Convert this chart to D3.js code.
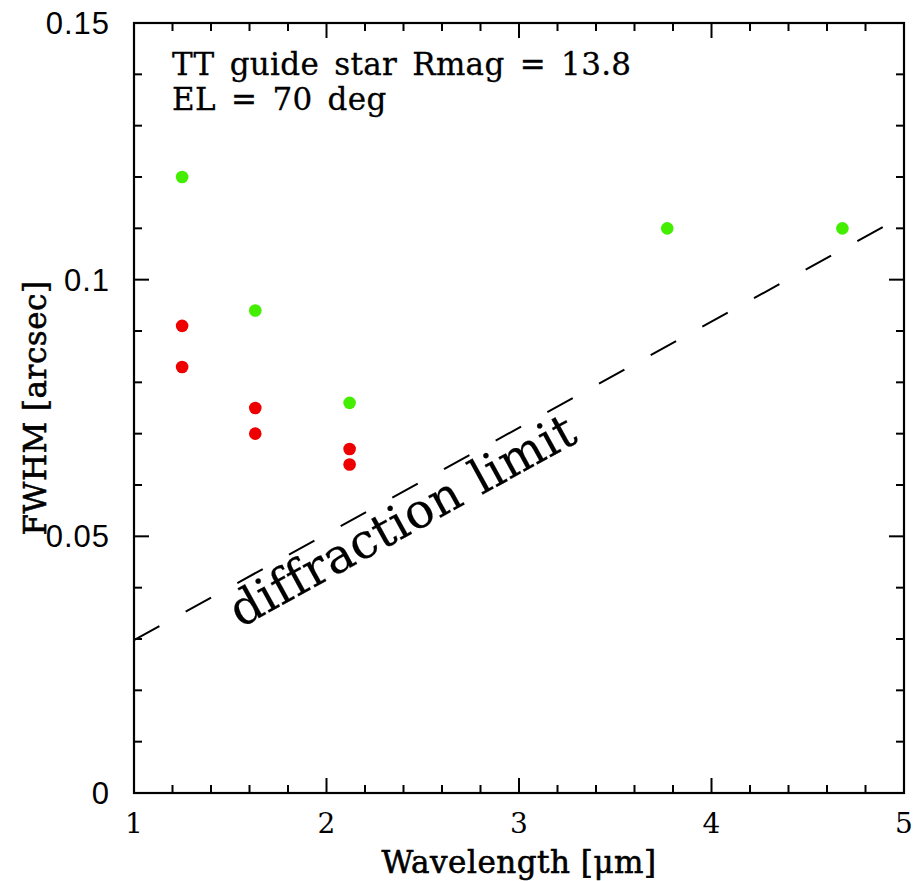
<!DOCTYPE html>
<html lang="en">
<head>
    <meta charset="utf-8">
    <title>FWHM vs Wavelength</title>
    <style>
        body { margin: 0; background: white; }
        .ytick { font-family: "Liberation Sans", Arial, sans-serif; font-size: 31px; letter-spacing: 1px; }
        .xtick { font-family: "DejaVu Serif", serif; font-size: 28px; }
        .title { font-family: "DejaVu Serif", serif; font-size: 31px; stroke: black; stroke-width: 0.6px; letter-spacing: 0.5px; }
        .note { font-family: "DejaVu Serif", serif; font-size: 31px; stroke: black; stroke-width: 0.3px; word-spacing: 5px; letter-spacing: 0.3px; }
    </style>
</head>
<body>
    <div id="container"></div>

    <script src="https://cdn.jsdelivr.net/npm/d3@7"></script>
    <script>
        // Data
        const greenWave = [1.25, 1.63, 2.12, 3.77, 4.68];
        const greenFwhm = [0.120, 0.094, 0.076, 0.110, 0.110];
        const redWave = [1.25, 1.25, 1.63, 1.63, 2.12, 2.12];
        const redFwhm = [0.091, 0.083, 0.075, 0.070, 0.067, 0.064];
        const diffWave = [1, 5];
        const diffFwhm = [0.0298, 0.1125];
        const xMajor = [1, 2, 3, 4, 5];
        const yMajor = [0, 0.05, 0.1, 0.15];
        const yLabels = ["0", "0.05", "0.1", "0.15"];
        const notes = ["TT guide star Rmag = 13.8", "EL = 70 deg"];

        const width = 914;
        const height = 881;
        const marginLeft = 134;
        const marginRight = 10;
        const marginTop = 23;
        const marginBottom = 88;

        const svg = d3.select("#container").append("svg")
            .attr("width", width)
            .attr("height", height);

        const x = d3.scaleLinear().domain([1, 5]).range([marginLeft, width - marginRight]);
        const y = d3.scaleLinear().domain([0, 0.15]).range([height - marginBottom, marginTop]);

        svg.append("clipPath").attr("id", "clip")
            .append("rect")
            .attr("x", x(1)).attr("y", y(0.15))
            .attr("width", x(5) - x(1)).attr("height", y(0) - y(0.15));

        // minor and major ticks on all four sides
        const xMinor = d3.range(1, 5.001, 0.2);
        const yMinor = d3.range(0, 0.1501, 0.01);
        const isMajorX = v => Math.abs(v - Math.round(v)) < 1e-6;
        const isMajorY = v => Math.abs(v / 0.05 - Math.round(v / 0.05)) < 1e-6;

        const ticks = svg.append("g").attr("stroke", "black").attr("stroke-width", 2);
        xMinor.forEach(v => {
            const len = isMajorX(v) ? 15 : 8;
            ticks.append("line").attr("x1", x(v)).attr("x2", x(v)).attr("y1", y(0)).attr("y2", y(0) - len);
            ticks.append("line").attr("x1", x(v)).attr("x2", x(v)).attr("y1", y(0.15)).attr("y2", y(0.15) + len);
        });
        yMinor.forEach(v => {
            const len = isMajorY(v) ? 15 : 8;
            ticks.append("line").attr("y1", y(v)).attr("y2", y(v)).attr("x1", x(1)).attr("x2", x(1) + len);
            ticks.append("line").attr("y1", y(v)).attr("y2", y(v)).attr("x1", x(5)).attr("x2", x(5) - len);
        });

        // frame
        svg.append("rect")
            .attr("x", x(1)).attr("y", y(0.15))
            .attr("width", x(5) - x(1)).attr("height", y(0) - y(0.15))
            .attr("fill", "none").attr("stroke", "black").attr("stroke-width", 2.2);

        // tick labels
        svg.selectAll(".xtick").data(xMajor).enter().append("text")
            .attr("class", "xtick")
            .attr("x", d => x(d))
            .attr("y", y(0) + 40)
            .attr("text-anchor", "middle")
            .text(d => d);

        svg.selectAll(".ytick").data(yMajor).enter().append("text")
            .attr("class", "ytick")
            .attr("x", x(1) - 24)
            .attr("y", d => y(d) + 11)
            .attr("text-anchor", "end")
            .text((d, i) => yLabels[i]);

        // axis titles
        svg.append("text")
            .attr("class", "title")
            .attr("x", (x(1) + x(5)) / 2)
            .attr("y", height - 8)
            .attr("text-anchor", "middle")
            .text("Wavelength [\u03bcm]");

        svg.append("text")
            .attr("class", "title")
            .attr("transform", `translate(46,${(y(0) + y(0.15)) / 2}) rotate(-90)`)
            .attr("text-anchor", "middle")
            .text("FWHM [arcsec]");

        // diffraction limit line
        const line = d3.line().x(d => x(d[0])).y(d => y(d[1]));
        svg.append("path")
            .datum(diffWave.map((w, i) => [w, diffFwhm[i]]))
            .attr("clip-path", "url(#clip)")
            .attr("d", line)
            .attr("fill", "none")
            .attr("stroke", "black")
            .attr("stroke-width", 2)
            .attr("stroke-dasharray", "29,30");

        const angle = Math.atan2(y(diffFwhm[1]) - y(diffFwhm[0]), x(diffWave[1]) - x(diffWave[0])) * 180 / Math.PI;
        const labelW = 1.45;
        const labelF = diffFwhm[0] + (labelW - diffWave[0]) * (diffFwhm[1] - diffFwhm[0]) / (diffWave[1] - diffWave[0]);
        svg.append("text")
            .attr("class", "note")
            .attr("transform", `translate(${x(labelW)},${y(labelF)}) rotate(${angle})`)
            .attr("dy", 41)
            .style("font-size", "48px")
            .style("stroke-width", "0.2px")
            .style("letter-spacing", "0.3px")
            .style("word-spacing", "2px")
            .text("diffraction limit");

        // points
        svg.selectAll(".green").data(greenWave).enter().append("circle")
            .attr("cx", d => x(d))
            .attr("cy", (d, i) => y(greenFwhm[i]))
            .attr("r", 6.3)
            .attr("fill", "#44ee00");

        svg.selectAll(".red").data(redWave).enter().append("circle")
            .attr("cx", d => x(d))
            .attr("cy", (d, i) => y(redFwhm[i]))
            .attr("r", 6.3)
            .attr("fill", "#ee0000");

        // annotation
        notes.forEach((t, i) => {
            svg.append("text")
                .attr("class", "note")
                .attr("x", 172)
                .attr("y", 75 + i * 35)
                .text(t);
        });
    </script>
</body>
</html>
